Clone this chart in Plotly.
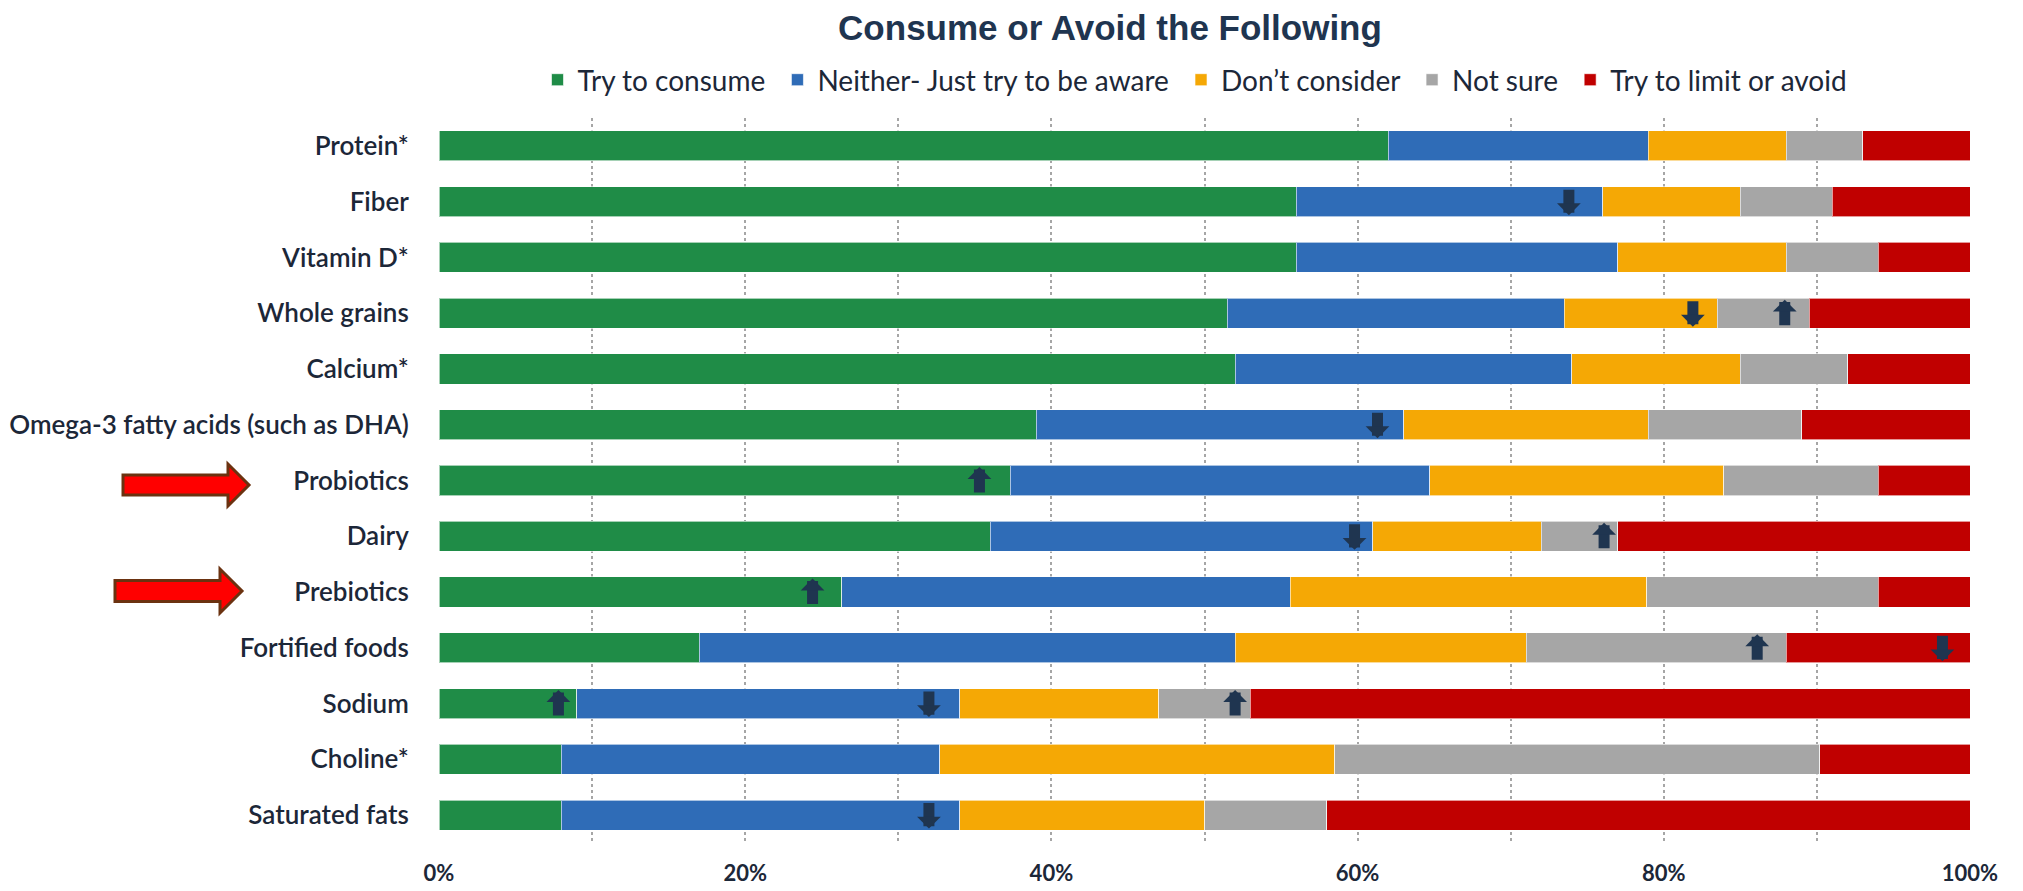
import plotly.graph_objects as go

categories = ["Protein*", "Fiber", "Vitamin D*", "Whole grains", "Calcium*",
              "Omega-3 fatty acids (such as DHA)", "Probiotics", "Dairy",
              "Prebiotics", "Fortified foods", "Sodium", "Choline*", "Saturated fats"]
series_names = ["Try to consume", "Neither- Just try to be aware", "Don\u2019t consider",
                "Not sure", "Try to limit or avoid"]
try_to_consume = [62, 56, 56, 51.5, 52, 39, 37.3, 36, 26.3, 17, 9, 8, 8]
neither_aware = [17, 20, 21, 22, 22, 24, 27.4, 25, 29.3, 35, 25, 24.7, 26]
dont_consider = [9, 9, 11, 10, 11, 16, 19.2, 11, 23.3, 19, 13, 25.8, 16]
not_sure = [5, 6, 6, 6, 7, 10, 10.1, 5, 15.1, 17, 6, 31.7, 8]
limit_avoid = [7, 9, 6, 10.5, 8, 11, 6, 23, 6, 12, 47, 9.8, 42]
series_colors = ["#1f8c47", "#2f6cb7", "#f5a805", "#a6a6a6", "#c00000"]

# change-indicator arrows (category, x position in %, direction)
arrow_categories = ["Fiber", "Whole grains", "Whole grains", "Omega-3 fatty acids (such as DHA)",
                    "Probiotics", "Dairy", "Dairy", "Prebiotics", "Fortified foods",
                    "Fortified foods", "Sodium", "Sodium", "Sodium", "Saturated fats"]
arrow_positions = [73.8, 81.9, 87.9, 61.3, 35.3, 59.8, 76.1, 24.4, 86.1, 98.2, 7.8, 32.0, 52.0, 32.0]
arrow_directions = ["down", "down", "up", "down", "up", "down", "up", "up", "up", "down",
                    "up", "down", "up", "down"]

# highlighted categories (red block arrows on the left)
highlighted = ["Probiotics", "Prebiotics"]

tick_values = [0, 20, 40, 60, 80, 100]
tick_labels = ["0%", "20%", "40%", "60%", "80%", "100%"]

W, H = 2023, 891
OFF = 8  # page body margin
ML, MR, MT, MB = 439 - OFF, 53 + OFF, 118 - OFF, 48 + OFF
TEXT = "#1c2738"
NAVY = "#1f3550"

fig = go.Figure()
all_series = [try_to_consume, neither_aware, dont_consider, not_sure, limit_avoid]
for i, (name, vals, col) in enumerate(zip(series_names, all_series, series_colors)):
    label = name + ("\u00a0" if i < len(series_names) - 1 else "")
    fig.add_trace(go.Bar(
        y=categories, x=vals, name=label, orientation="h",
        marker=dict(color=col, line=dict(color="rgba(255,255,255,0.6)", width=1)),
    ))

for cat, xp, d in zip(arrow_categories, arrow_positions, arrow_directions):
    up = d == "up"
    fig.add_annotation(
        x=xp, y=cat, xref="x", yref="y", text="", showarrow=True,
        arrowhead=1, arrowsize=0.36, arrowwidth=11, arrowcolor=NAVY,
        ax=0, ay=27 if up else -27, axref="pixel", ayref="pixel",
        yshift=13.5 if up else -13.5,
    )

# red block arrows pointing to highlighted rows (pixel geometry -> paper coords)
pw = W - ML - MR
ph = H - MT - MB
def px(x):
    return (x - OFF - ML) / pw
def py(y):
    return (H - MB - (y - OFF)) / ph

block_geom = {"Probiotics": (123, 228, 249, 485, 10, 21),
              "Prebiotics": (115, 220, 242, 591, 10.5, 22)}
for cat in highlighted:
    x0, xb, xt, cy, sh, hh = block_geom[cat]
    pts = [(x0, cy - sh), (xb, cy - sh), (xb, cy - hh), (xt, cy), (xb, cy + hh),
           (xb, cy + sh), (x0, cy + sh)]
    path = "M " + " L ".join(f"{px(a):.5f},{py(b):.5f}" for a, b in pts) + " Z"
    fig.add_shape(type="path", path=path, xref="paper", yref="paper",
                  fillcolor="#ff0000", line=dict(color="#6b3210", width=3))

fig.update_layout(
    width=W, height=H,
    barmode="stack", bargap=0.46,
    plot_bgcolor="white", paper_bgcolor="white",
    margin=dict(l=ML, r=MR, t=MT, b=MB, autoexpand=False),
    font=dict(family="Lato", color=TEXT),
    title=dict(text="Consume or Avoid the Following", x=(1110 - OFF) / W, xanchor="center",
               y=1 - 20 / H, yanchor="middle",
               font=dict(size=35, color=NAVY, family="Liberation Sans", weight="bold")),
    legend=dict(orientation="h", x=(1195 - OFF - ML) / pw, xanchor="center",
                y=1 + (MT - (80 - OFF)) / ph, yanchor="middle",
                font=dict(size=28, color=TEXT), traceorder="normal", itemwidth=30),
    showlegend=True,
)
fig.update_xaxes(
    range=[0, 100], tickvals=tick_values, ticktext=tick_labels,
    showgrid=True, gridcolor="#a6a6a6", griddash="dot", gridwidth=2,
    minor=dict(dtick=10, showgrid=True, gridcolor="#a6a6a6", griddash="dot", gridwidth=2),
    zeroline=False, showline=False, automargin=False,
    ticks="outside", ticklen=11, tickcolor="rgba(0,0,0,0)",
    tickfont=dict(size=22, color=TEXT, family="Lato", weight="bold"),
    fixedrange=True,
)
fig.update_yaxes(
    categoryorder="array", categoryarray=categories, autorange="reversed",
    showgrid=False, zeroline=False, showline=False, automargin=False,
    ticks="outside", ticklen=24, tickcolor="rgba(0,0,0,0)",
    tickfont=dict(size=26, color=TEXT, family="Lato", weight=600),
    fixedrange=True,
)

fig.write_html("out.html")
